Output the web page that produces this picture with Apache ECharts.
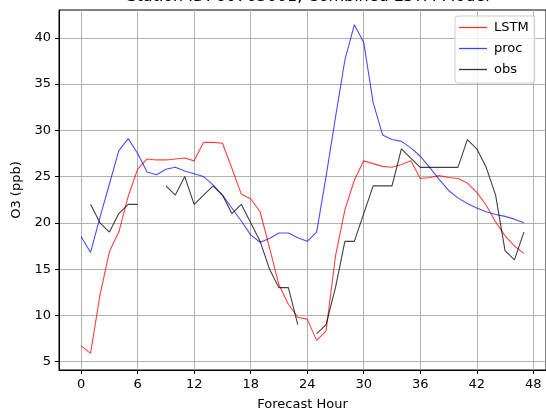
<!DOCTYPE html>
<html>
<head>
<meta charset="utf-8">
<script src="https://cdn.jsdelivr.net/npm/echarts@6/dist/echarts.min.js"></script>
<style>html,body{margin:0;padding:0;background:#fff;}#c{width:546px;height:416px;}</style>
</head>
<body>
<div id="c"></div>
<script>
const titleText = 'Station ID: 60703001, Combined LSTM Model';
const hours = [0,1,2,3,4,5,6,7,8,9,10,11,12,13,14,15,16,17,18,19,20,21,22,23,24,25,26,27,28,29,30,31,32,33,34,35,36,37,38,39,40,41,42,43,44,45,46,47];
const lstm = [6.7,5.9,12.2,16.9,19.0,22.9,25.8,26.9,26.8,26.8,26.9,27.0,26.7,28.7,28.7,28.6,25.9,23.1,22.6,21.2,17.3,13.3,11.2,9.8,9.6,7.3,8.3,16.4,21.4,24.6,26.7,26.4,26.1,26.0,26.3,26.7,24.8,24.9,25.1,24.9,24.8,24.3,23.3,21.9,20.1,18.6,17.5,16.7];
const proc = [18.5,16.8,20.6,24.2,27.8,29.1,27.5,25.5,25.2,25.8,26.0,25.6,25.3,25.0,24.1,23.0,21.6,20.2,18.7,17.9,18.3,18.9,18.9,18.4,18.0,19.0,25.0,31.4,37.6,41.4,39.5,33.0,29.5,29.0,28.8,28.1,27.2,26.0,24.7,23.5,22.7,22.1,21.6,21.2,20.9,20.7,20.4,20.0];
const obs = [null,22,20,19,21,22,22,null,null,24,23,25,22,23,24,23,21,22,20,18,15,13,13,9,null,8,9,13,18,18,21,24,24,24,28,27,26,26,26,26,26,29,28,26,23,17,16,19];
const xTicks = [0,6,12,18,24,30,36,42,48];
const yTicks = [5,10,15,20,25,30,35,40];
const seriesNames = ['LSTM','proc','obs'];

const toPairs = arr => arr.map((v,i) => [hours[i], v == null ? '-' : v]);
const font = 'DejaVu Sans';

const chart = echarts.init(document.getElementById('c'), null, {renderer:'canvas'});
chart.setOption({
  animation: false,
  backgroundColor: '#fff',
  title: {
    text: titleText, left: 303, top: -16, textAlign: 'center',
    textStyle: {fontFamily: font, fontSize: 16, fontWeight: 'normal', color: '#000'}
  },
  grid: {left: 59, top: 10, right: -2, bottom: 43.3, show: true, borderColor: '#000', borderWidth: 1, backgroundColor: 'transparent'},
  legend: {
    orient: 'vertical', left: 455, top: 16,
    padding: [4, 6, 6, 4], itemWidth: 28, itemHeight: 1.3, itemGap: 6,
    icon: 'rect',
    backgroundColor: 'rgba(255,255,255,0.8)', borderColor: '#cccccc', borderWidth: 1, borderRadius: 3,
    textStyle: {fontFamily: font, fontSize: 13, color: '#000', padding: [0,0,0,2], lineHeight: 15},
    data: seriesNames
  },
  xAxis: {
    type: 'value', min: -2.35, max: 49.35,
    name: 'Forecast Hour', nameLocation: 'middle', nameGap: 28,
    nameTextStyle: {fontFamily: font, fontSize: 13, color: '#000'},
    axisLine: {show: true, onZero: false, lineStyle: {color: '#000', width: 1}},
    axisTick: {show: true, length: 4, lineStyle: {color: '#000'}, customValues: xTicks},
    axisLabel: {fontFamily: font, fontSize: 13, color: '#000', margin: 8, customValues: xTicks, showMinLabel: true, showMaxLabel: true},
    splitLine: {show: true, lineStyle: {color: '#b0b0b0', width: 1}}
  },
  yAxis: {
    type: 'value', min: 4.1, max: 43.0,
    name: 'O3 (ppb)', nameLocation: 'middle', nameGap: 34,
    nameTextStyle: {fontFamily: font, fontSize: 13, color: '#000'},
    axisLine: {show: true, onZero: false, lineStyle: {color: '#000', width: 1}},
    axisTick: {show: true, length: 4, lineStyle: {color: '#000'}, customValues: yTicks},
    axisLabel: {fontFamily: font, fontSize: 13, color: '#000', margin: 8, customValues: yTicks},
    splitLine: {show: true, lineStyle: {color: '#b0b0b0', width: 1}}
  },
  series: [
    {name: seriesNames[0], type: 'line', data: toPairs(lstm), symbol: 'none', lineStyle: {color: 'rgba(255,0,0,0.75)', width: 1.1}, itemStyle: {color: 'rgba(255,0,0,0.8)'}},
    {name: seriesNames[1], type: 'line', data: toPairs(proc), symbol: 'none', lineStyle: {color: 'rgba(0,0,255,0.7)', width: 1.1}, itemStyle: {color: 'rgba(0,0,255,0.75)'}},
    {name: seriesNames[2], type: 'line', data: toPairs(obs), symbol: 'none', connectNulls: false, lineStyle: {color: 'rgba(0,0,0,0.75)', width: 1.1}, itemStyle: {color: 'rgba(0,0,0,0.8)'}}
  ]
});
</script>
</body>
</html>
